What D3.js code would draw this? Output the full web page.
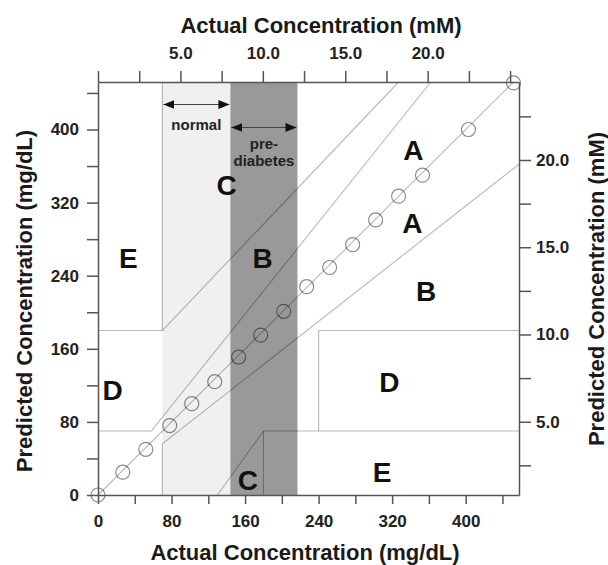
<!DOCTYPE html>
<html lang="en">
  <head>
    <meta charset="UTF-8" />
    <title>Clarke error grid</title>
    <script src="https://cdn.jsdelivr.net/npm/d3@7/dist/d3.min.js"></script>
    <style>
      body { margin: 0; background: #fff; }
      text { font-family: "Liberation Sans", Arial, sans-serif; font-weight: bold; fill: #1a1a1a; }
      .axis path, .axis line { stroke: #555; stroke-width: 1.5px; }
      .axis text { font-size: 17px; fill: #222; }
      .grid { fill: none; stroke: #000; stroke-opacity: 0.28; stroke-width: 1.1px; }
    </style>
  </head>
  <body>
    <svg width="608" height="565"></svg>
    <script>
      const svg = d3.select("svg");

      // measured points (mg/dL)
      const actual = [0, 27, 52, 78, 102, 127, 153, 177, 202, 227, 252, 277, 302, 327, 353, 403, 452];
      const predicted = [0, 25, 50, 76, 100, 124, 151, 175, 201, 228, 249, 274, 301, 327, 350, 400, 451];

      // glucose ranges (mg/dL)
      const normalRange = [70, 144];
      const prediabetesRange = [144, 217];

      // zone boundary lines, [actual, predicted] in mg/dL
      const zoneLines = [
        [[0, 180], [70, 180], [70, 452]],
        [[70, 180], [327, 452]],
        [[0, 70], [58, 70], [362, 452]],
        [[70, 0], [70, 56], [458, 362]],
        [[130, 0], [180, 70], [458, 70]],
        [[180, 0], [180, 70]],
        [[240, 70], [240, 180], [458, 180]],
      ];
      const identity = [[0, 0], [452, 452]];

      // zone letters at [actual, predicted]
      const zoneLabels = [
        { t: "E", a: 33, p: 259 },
        { t: "C", a: 140, p: 339 },
        { t: "B", a: 179, p: 259 },
        { t: "A", a: 343, p: 378 },
        { t: "A", a: 342, p: 298 },
        { t: "B", a: 357, p: 223 },
        { t: "D", a: 16, p: 115 },
        { t: "D", a: 317, p: 124 },
        { t: "C", a: 163, p: 16 },
        { t: "E", a: 309, p: 25 },
      ];

      const mgTicks = d3.range(0, 441, 40);
      const mMTopTicks = d3.range(0, 25.1, 2.5);
      const mMRightTicks = d3.range(2.5, 22.6, 2.5);
      const mMLabels = [5, 10, 15, 20];

      const x = d3.scaleLinear().domain([0, 458]).range([98, 519]);
      const y = d3.scaleLinear().domain([0, 452]).range([495, 82]);
      const xTop = d3.scaleLinear().domain([0, 25.54]).range([98, 519]);
      const yRight = d3.scaleLinear().domain([0.8, 24.47]).range([495, 82]);

      // bands
      svg.append("rect")
        .attr("x", x(normalRange[0])).attr("y", y(452))
        .attr("width", x(normalRange[1]) - x(normalRange[0]))
        .attr("height", y(0) - y(452))
        .attr("fill", "#f0f0f0");
      svg.append("rect")
        .attr("x", x(prediabetesRange[0])).attr("y", y(452))
        .attr("width", x(prediabetesRange[1]) - x(prediabetesRange[0]))
        .attr("height", y(0) - y(452))
        .attr("fill", "#999");

      const line = d3.line().x((d) => x(d[0])).y((d) => y(d[1]));
      svg.append("g").selectAll("path").data(zoneLines).enter()
        .append("path").attr("class", "grid").attr("d", line);
      svg.append("path").attr("class", "grid").attr("d", line(identity));

      svg.append("g").selectAll("circle").data(actual).enter()
        .append("circle")
        .attr("cx", (d) => x(d))
        .attr("cy", (d, i) => y(predicted[i]))
        .attr("r", 7)
        .attr("fill", "none")
        .attr("stroke", "#000")
        .attr("stroke-opacity", 0.45)
        .attr("stroke-width", 1.2);

      svg.append("g").selectAll("text").data(zoneLabels).enter()
        .append("text")
        .attr("x", (d) => x(d.a))
        .attr("y", (d) => y(d.p) + 10)
        .attr("text-anchor", "middle")
        .style("font-size", "28px")
        .style("fill", "#111")
        .text((d) => d.t);

      // range arrows
      svg.append("defs").append("marker")
        .attr("id", "head")
        .attr("markerUnits", "userSpaceOnUse")
        .attr("markerWidth", 11).attr("markerHeight", 9)
        .attr("refX", 11).attr("refY", 4.5)
        .attr("orient", "auto-start-reverse")
        .append("path").attr("d", "M0,0L11,4.5L0,9Z").attr("fill", "#111");

      const arrows = [
        { r: normalRange, y: 104.5, lines: ["normal"], ty: 130 },
        { r: prediabetesRange, y: 127.5, lines: ["pre-", "diabetes"], ty: 149 },
      ];
      arrows.forEach((a) => {
        svg.append("line")
          .attr("x1", x(a.r[0]) + 1).attr("x2", x(a.r[1]) - 1)
          .attr("y1", a.y).attr("y2", a.y)
          .attr("stroke", "#444").attr("stroke-width", 1)
          .attr("marker-start", "url(#head)")
          .attr("marker-end", "url(#head)");
        a.lines.forEach((t, i) => {
          svg.append("text")
            .attr("x", (x(a.r[0]) + x(a.r[1])) / 2)
            .attr("y", a.ty + i * 17)
            .attr("text-anchor", "middle")
            .style("font-size", "15px")
            .style("fill", "#222")
            .text(t);
        });
      });

      // axes
      const fmtMg = (d) => (d % 80 === 0 ? d : "");
      const fmtMM = (d) => (mMLabels.includes(d) ? d3.format(".1f")(d) : "");

      svg.append("g").attr("class", "axis")
        .attr("transform", "translate(0,495)")
        .call(d3.axisBottom(x).tickValues(mgTicks).tickSize(9).tickSizeOuter(0).tickPadding(11).tickFormat(fmtMg));
      svg.append("g").attr("class", "axis")
        .attr("transform", "translate(98,0)")
        .call(d3.axisLeft(y).tickValues(mgTicks).tickSize(11).tickSizeOuter(0).tickPadding(8).tickFormat(fmtMg));
      svg.append("g").attr("class", "axis")
        .attr("transform", "translate(0,82)")
        .call(d3.axisTop(xTop).tickValues(mMTopTicks).tickSize(11).tickSizeOuter(0).tickPadding(12).tickFormat(fmtMM));
      svg.append("g").attr("class", "axis")
        .attr("transform", "translate(519,0)")
        .call(d3.axisRight(yRight).tickValues(mMRightTicks).tickSize(12).tickSizeOuter(0).tickPadding(5).tickFormat(fmtMM));

      // titles
      const title = (txt, tx, ty, rot) =>
        svg.append("text")
          .attr("transform", `translate(${tx},${ty}) rotate(${rot})`)
          .attr("text-anchor", "middle")
          .style("font-size", "22px")
          .style("fill", "#1a1a1a")
          .text(txt);
      title("Actual Concentration (mM)", 321, 33, 0);
      title("Actual Concentration (mg/dL)", 305, 560, 0);
      title("Predicted Concentration (mg/dL)", 32, 301, -90);
      title("Predicted Concentration (mM)", 604, 289, -90);
    </script>
  </body>
</html>
